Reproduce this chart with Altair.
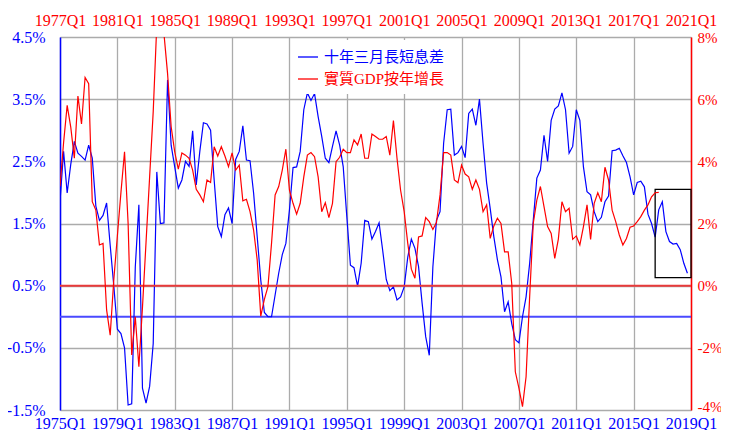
import altair as alt
import pandas as pd

# ---- data (quarterly, index 0 = 1975Q1 on the bottom axis) ----
series_names = ["十年三月長短息差", "實質GDP按年增長"]

bottom_labels = ["1975Q1", "1979Q1", "1983Q1", "1987Q1", "1991Q1", "1995Q1",
                 "1999Q1", "2003Q1", "2007Q1", "2011Q1", "2015Q1", "2019Q1"]
top_labels = ["1977Q1", "1981Q1", "1985Q1", "1989Q1", "1993Q1", "1997Q1",
              "2001Q1", "2005Q1", "2009Q1", "2013Q1", "2017Q1", "2021Q1"]

left_ticks = [-1.5, -0.5, 0.5, 1.5, 2.5, 3.5, 4.5]
right_ticks = [-4, -2, 0, 2, 4, 6, 8]

# 10y - 3m spread (%), left axis
spread = [
    1.85, 2.66, 1.99, 2.45, 2.82, 2.63, 2.58, 2.52, 2.76, 2.55,
    1.78, 1.55, 1.63, 1.83, 1.15, 0.50, -0.20, -0.27, -0.50, -1.42,
    -1.40, 0.80, 1.80, -1.15, -1.39, -1.12, -0.43, 2.33, 1.50, 1.51,
    3.81, 2.76, 2.41, 2.07, 2.20, 2.50, 2.42, 2.99, 2.12, 2.66,
    3.12, 3.10, 3.00, 2.20, 1.45, 1.29, 1.64, 1.75, 1.50, 2.53,
    2.66, 3.07, 2.52, 2.51, 1.99, 1.29, 0.59, 0.07, 0.00, 0.00,
    0.35, 0.70, 1.00, 1.18, 1.72, 2.40, 2.41, 2.66, 3.33, 3.60,
    3.48, 3.59, 3.22, 2.90, 2.55, 2.48, 2.74, 2.99, 2.76, 2.41,
    1.61, 0.83, 0.79, 0.49, 0.86, 1.55, 1.53, 1.25, 1.37, 1.51,
    1.07, 0.60, 0.42, 0.48, 0.27, 0.32, 0.48, 0.96, 1.25, 1.10,
    0.81, 0.22, -0.32, -0.62, 0.80, 1.55, 1.69, 2.79, 3.33, 3.34,
    2.60, 2.64, 2.74, 2.56, 3.27, 3.34, 3.08, 3.50, 2.79, 2.15,
    1.74, 1.29, 0.92, 0.64, 0.08, 0.24, -0.11, -0.37, -0.42, 0.00,
    0.32, 0.86, 1.55, 2.23, 2.36, 2.92, 2.50, 3.16, 3.34, 3.39,
    3.60, 3.33, 2.63, 2.74, 3.33, 3.16, 2.41, 2.01, 1.96, 1.69,
    1.53, 1.60, 1.85, 1.94, 2.67, 2.68, 2.71, 2.59, 2.48, 2.25,
    1.96, 2.16, 2.18, 2.09, 1.65, 1.50, 1.28, 1.72, 1.85, 1.37,
    1.21, 1.17, 1.18, 1.08, 0.86, 0.70,
]

# real GDP y/y growth (%), right axis, plotted two years earlier (top axis dates)
gdp = [
    3.20, 4.60, 5.80, 5.10, 4.10, 6.10, 5.20, 6.70, 6.50, 2.70,
    2.43, 1.31, 1.36, -0.78, -1.59, 0.18, 1.60, 3.00, 4.31, 2.00,
    -2.23, -1.00, -2.61, -0.70, 1.40, 3.50, 5.60, 8.40, 8.60, 8.10,
    6.83, 5.12, 4.30, 3.75, 4.27, 4.20, 4.10, 3.72, 3.10, 2.92,
    2.70, 3.40, 3.32, 4.47, 4.17, 4.47, 4.17, 3.83, 4.27, 3.72,
    3.88, 2.73, 2.78, 2.38, 1.79, 0.83, -0.98, -0.44, -0.03, 1.36,
    2.92, 3.19, 3.72, 4.39, 3.07, 2.65, 2.30, 2.65, 3.50, 4.20,
    4.28, 4.15, 3.50, 2.38, 2.67, 2.19, 2.65, 3.99, 4.13, 4.39,
    4.28, 4.28, 4.69, 4.53, 4.88, 4.10, 4.10, 4.88, 4.80, 4.71,
    4.71, 4.80, 4.20, 5.31, 4.10, 3.07, 2.38, 1.36, 0.53, 0.24,
    1.57, 1.60, 2.19, 2.06, 1.81, 2.03, 2.92, 4.28, 4.28, 4.20,
    3.40, 3.31, 3.88, 3.59, 3.50, 3.10, 3.40, 3.10, 2.38, 2.60,
    1.52, 1.92, 2.17, 2.00, 1.09, 1.09, 0.07, -2.77, -3.30, -3.89,
    -2.93, -0.35, 2.00, 2.75, 3.19, 2.54, 1.90, 1.68, 0.88, 1.50,
    2.70, 2.38, 2.49, 1.49, 1.60, 1.31, 1.90, 2.60, 1.49, 2.65,
    2.99, 2.70, 3.81, 3.40, 2.43, 2.06, 1.63, 1.31, 1.52, 1.88,
    1.92, 2.06, 2.22, 2.43, 2.60, 2.86, 2.99, 3.00,
]

# highlighted box (quarter index range, spread range)
box_q = [166, 176]
box_v = [0.63, 2.05]

# ---- tables ----
df_b = pd.DataFrame({"q": list(range(len(spread))), "v": spread, "s": series_names[0]})
df_r = pd.DataFrame({"q": list(range(len(gdp))), "v": gdp, "s": series_names[1]})
df_box = pd.DataFrame({"q": [box_q[0]], "q2": [box_q[1]], "v": [box_v[0]], "v2": [box_v[1]]})
df_zero = pd.DataFrame({"v": [0]})

BLUE = "#0000ff"
RED = "#ff0000"
GRID = "#ababab"
FONT = "Liberation Serif"
N_Q = (len(bottom_labels) - 1) * 16
tick_q = [i * 16 for i in range(len(bottom_labels))]


def js_list(items):
    return "[" + ",".join("'" + s + "'" for s in items) + "]"


x_scale = alt.Scale(domain=[0, N_Q], nice=False, zero=False)

xb = alt.X(
    "q:Q", scale=x_scale, title=None,
    axis=alt.Axis(orient="bottom", values=tick_q,
                  labelExpr=js_list(bottom_labels) + "[round(datum.value/16)]",
                  domain=False, ticks=False, tickSize=0,
                  labelColor=BLUE, labelFont=FONT, labelFontSize=16,
                  labelBaseline="alphabetic", labelPadding=18,
                  labelFlush=False, labelOverlap=False,
                  grid=True, gridColor=GRID, gridWidth=1.3),
)
xt = alt.X(
    "q:Q", scale=x_scale, title=None,
    axis=alt.Axis(orient="top", values=tick_q,
                  labelExpr=js_list(top_labels) + "[round(datum.value/16)]",
                  domain=False, ticks=False, tickSize=0,
                  labelColor=RED, labelFont=FONT, labelFontSize=16,
                  labelBaseline="alphabetic", labelPadding=12,
                  labelFlush=False, labelOverlap=False, grid=False),
)
yl = alt.Y(
    "v:Q", scale=alt.Scale(domain=[left_ticks[0], left_ticks[-1]], nice=False, zero=False),
    title=None,
    axis=alt.Axis(orient="left", values=left_ticks,
                  labelExpr="toString(datum.value) + '%'",
                  domainColor=BLUE, domainWidth=1.5, ticks=False, tickSize=0,
                  labelColor=BLUE, labelFont=FONT, labelFontSize=16, labelPadding=15,
                  labelOverlap=False, labelFlush=False,
                  grid=True, gridColor=GRID, gridWidth=1.3),
)
yr = alt.Y(
    "v:Q", scale=alt.Scale(domain=[right_ticks[0], right_ticks[-1]], nice=False, zero=False),
    title=None,
    axis=alt.Axis(orient="right", values=right_ticks,
                  labelExpr="toString(datum.value) + '%'",
                  domainColor=RED, domainWidth=1.5, ticks=False, tickSize=0,
                  labelColor=RED, labelFont=FONT, labelFontSize=15, labelPadding=6,
                  labelOffset={"expr": "datum.value == " + str(right_ticks[0]) + " ? -4 : 0"},
                  labelOverlap=False, labelFlush=False, grid=False),
)

color = alt.Color(
    "s:N",
    scale=alt.Scale(domain=series_names, range=[BLUE, RED]),
    legend=alt.Legend(
        title=None, orient="none", legendX=231, legendY=3,
        fillColor="white", padding=6, strokeColor="white",
        symbolType="stroke", symbolSize=400, symbolStrokeWidth=1.3,
        labelFont="Liberation Serif, Noto Sans CJK TC", labelFontSize=15,
        labelOffset=5, rowPadding=3,
        labelColor={"expr": "datum.label == '" + series_names[0] + "' ? '" + BLUE + "' : '" + RED + "'"},
    ),
)

blue_rule = alt.Chart(df_zero).mark_rule(color="#4a4aff", strokeWidth=2).encode(y=yl)
blue_line = alt.Chart(df_b).mark_line(strokeWidth=1.2, clip=True).encode(x=xb, y=yl, color=color)
box = alt.Chart(df_box).mark_rect(fillOpacity=0, stroke="black", strokeWidth=1.3).encode(
    x=xb, x2="q2:Q", y=yl, y2="v2:Q")

red_rule = alt.Chart(df_zero).mark_rule(color="#e83a3a", strokeWidth=2).encode(y=yr)
red_line = alt.Chart(df_r).mark_line(strokeWidth=1.2, clip=True).encode(x=xt, y=yr, color=color)

left = alt.layer(blue_rule, blue_line, box)
right = alt.layer(red_rule, red_line)

chart = (
    alt.layer(left, right)
    .resolve_scale(x="independent", y="independent")
    .properties(
        width=631, height=373,
        padding={"left": 52, "top": 29, "right": 30, "bottom": 20},
        autosize=alt.AutoSizeParams(type="none"),
        background="white",
    )
    .configure_view(stroke=None)
)

chart.save("out.html", embed_options={"renderer": "svg", "actions": False})
